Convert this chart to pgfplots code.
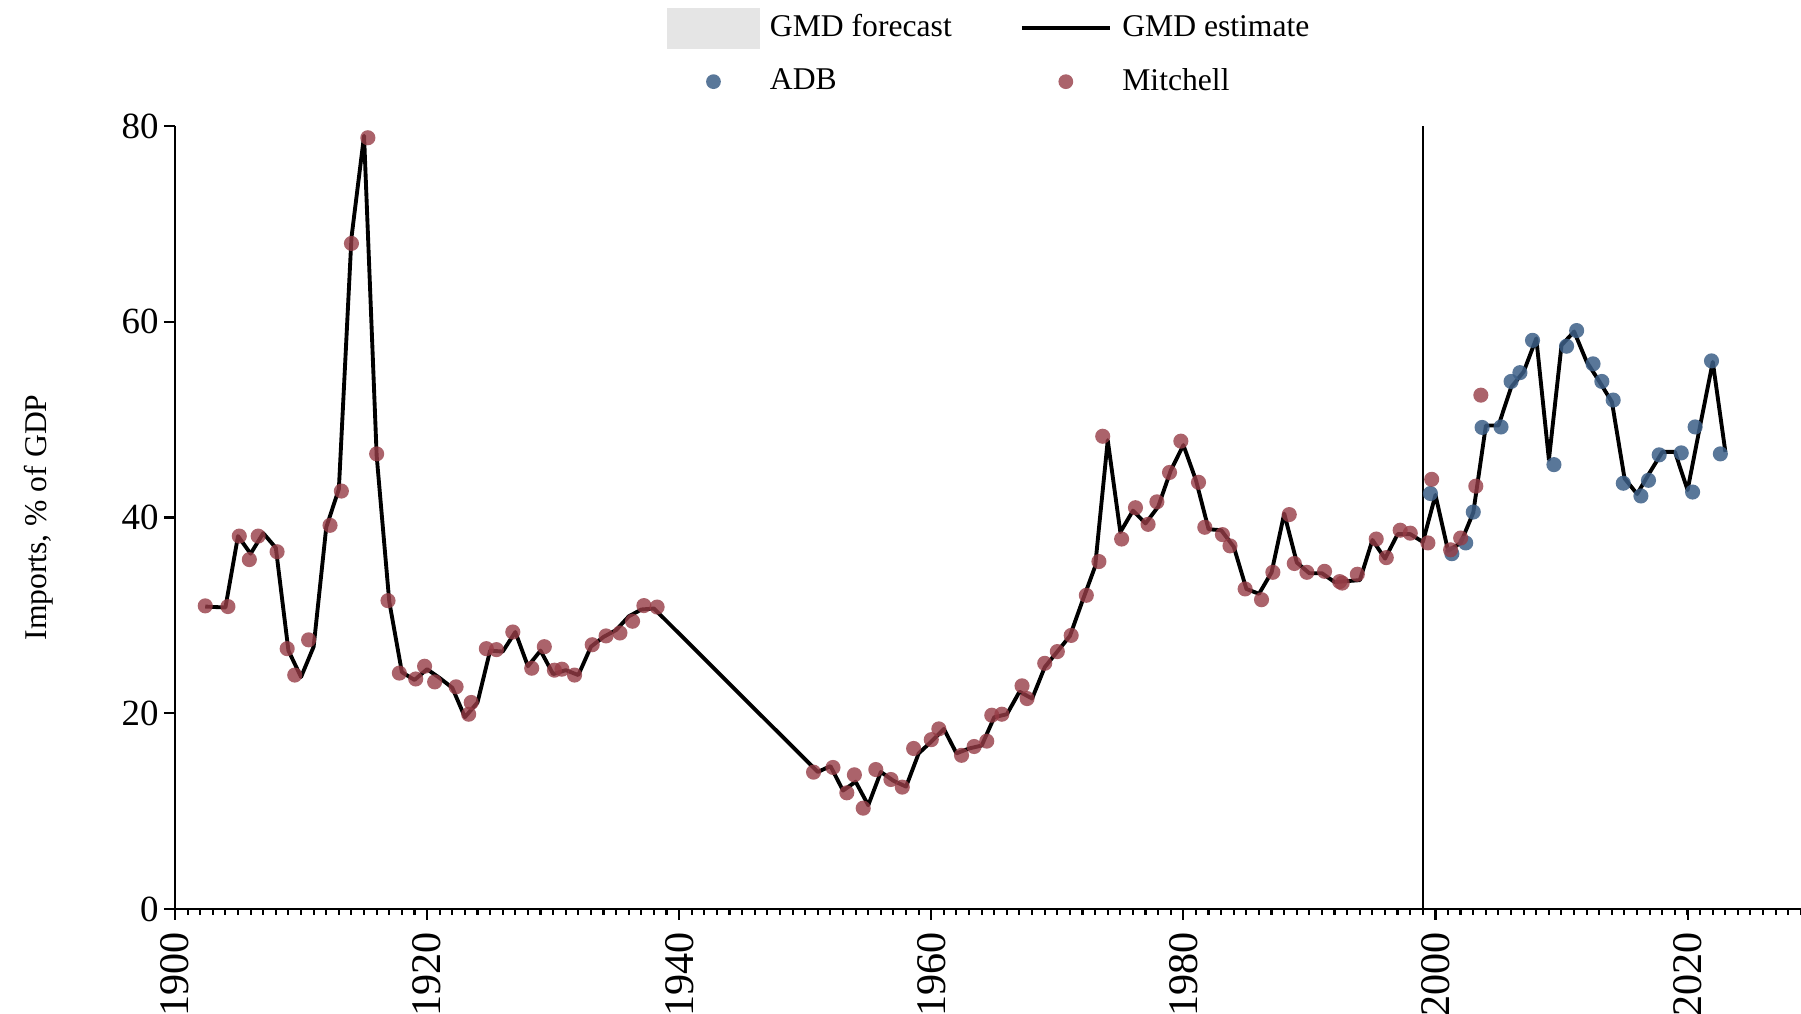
\documentclass[border=0pt]{standalone}
\usepackage{fontspec}
\setmainfont{Liberation Serif}
\usepackage{pgfplots}
\pgfplotsset{compat=1.18}
\usepackage{pgfplotstable}

\definecolor{adb}{RGB}{60,95,135}
\definecolor{mitch}{RGB}{150,60,70}
\definecolor{fcast}{RGB}{229,229,229}

% GMD estimate (line)
\pgfplotstableread{
year val
1902.4 30.9
1904 30.8
1905 38.1
1906 36.3
1907 38.4
1908 36.9
1909 26.4
1910 23.7
1911 26.8
1912 39.0
1913 42.9
1914 68.6
1915 79.0
1916 46.3
1917 31.4
1918 24.2
1919 23.4
1920 24.5
1921 23.6
1922 22.6
1923 19.6
1924 21.1
1925 26.4
1926 26.3
1927 28.3
1928 24.8
1929 26.4
1930 24.0
1931 24.4
1932 23.9
1933 26.8
1934 27.8
1935 28.5
1936 29.9
1937 30.6
1938 30.7
1951 14.0
1952 14.6
1953 12.1
1954 13.0
1955 10.6
1956 14.0
1957 13.1
1958 12.5
1959 15.9
1960 17.1
1961 18.4
1962 15.9
1963 16.4
1964 16.7
1965 19.6
1966 19.9
1967 22.2
1968 21.5
1969 24.7
1970 26.3
1971 27.9
1972 31.5
1973 35.0
1974 47.9
1975 38.5
1976 40.7
1977 39.4
1978 41.1
1979 44.8
1980 47.4
1981 43.8
1982 38.8
1983 38.7
1984 37.0
1985 32.7
1986 32.2
1987 34.4
1988 40.4
1989 35.4
1990 34.3
1991 34.3
1992 33.4
1993 33.5
1994 33.6
1995 37.7
1996 35.8
1997 38.3
1998 38.3
1999 37.5
2000 42.3
2001 36.6
2002 37.4
2003 40.5
2004 49.4
2005 49.4
2006 53.3
2007 54.9
2008 58.3
2009 45.9
2010 57.6
2011 59.0
2012 55.9
2013 53.9
2014 51.8
2015 44.0
2016 42.4
2017 44.6
2018 46.7
2019 46.7
2020 42.8
2021 49.4
2022 55.9
2023 46.7
}\gmd

% Mitchell
\pgfplotstableread{
year val
1902.4 30.97
1904.2 30.9
1905.1 38.1
1905.9 35.7
1906.6 38.1
1908.1 36.5
1908.9 26.6
1909.5 23.9
1910.6 27.5
1912.3 39.2
1913.2 42.7
1914.0 68.0
1915.3 78.8
1916.0 46.5
1916.9 31.5
1917.8 24.1
1919.1 23.5
1919.8 24.8
1920.6 23.2
1922.3 22.7
1923.3 19.9
1923.5 21.1
1924.7 26.6
1925.5 26.5
1926.8 28.3
1928.3 24.6
1929.3 26.8
1930.1 24.4
1930.7 24.5
1931.7 23.9
1933.1 27.0
1934.2 27.9
1935.3 28.2
1936.3 29.4
1937.2 31.0
1938.25 30.85
1950.66 13.98
1952.2 14.46
1953.3 11.87
1953.9 13.71
1954.6 10.3
1955.6 14.25
1956.8 13.23
1957.7 12.45
1958.6 16.4
1960.0 17.3
1960.6 18.4
1962.4 15.7
1963.4 16.6
1964.4 17.15
1964.8 19.8
1965.6 19.9
1967.2 22.8
1967.6 21.5
1969.0 25.1
1970.0 26.3
1971.1 27.95
1972.3 32.05
1973.3 35.5
1973.6 48.3
1975.1 37.8
1976.2 41.0
1977.2 39.3
1977.9 41.6
1978.9 44.6
1979.8 47.8
1981.2 43.6
1981.7 39.0
1983.1 38.25
1983.7 37.1
1984.9 32.7
1986.2 31.6
1987.1 34.4
1988.4 40.3
1988.8 35.3
1989.8 34.4
1991.2 34.5
1992.4 33.45
1992.6 33.3
1993.8 34.2
1995.3 37.8
1996.1 35.9
1997.2 38.7
1998.0 38.4
1999.4 37.4
1999.7 43.9
2001.2 36.7
2002.0 37.9
2003.2 43.2
2003.6 52.5
}\mitchell

% ADB
\pgfplotstableread{
year val
1999.6 42.45
2001.3 36.3
2002.4 37.4
2003.0 40.56
2003.7 49.2
2005.2 49.25
2006.0 53.9
2006.7 54.8
2007.7 58.1
2009.4 45.4
2010.4 57.5
2011.2 59.1
2012.5 55.7
2013.2 53.9
2014.1 52.0
2014.9 43.5
2016.3 42.2
2016.9 43.8
2017.75 46.4
2019.5 46.6
2020.4 42.6
2020.6 49.25
2021.9 56.0
2022.6 46.5
}\adbdata

\begin{document}
\begin{tikzpicture}
\begin{axis}[
  scale only axis,
  width=16.26cm, height=7.83cm,
  xmin=1900, xmax=2029, ymin=0, ymax=80,
  axis lines*=left,
  axis line style={line width=0.6pt, -},
  xtick={1900,1920,...,2020},
  minor xtick={1900,...,2029},
  ytick={0,20,...,80},
  tick align=outside,
  major tick length=0.11cm,
  minor tick length=0.06cm,
  tick style={black, line width=0.6pt},
  xticklabel style={rotate=90, anchor=east, font=\fontsize{12}{12}\selectfont},
  yticklabel style={font=\fontsize{10.5}{10.5}\selectfont, xshift=2pt},
  /pgf/number format/1000 sep={},
  /pgf/number format/assume math mode=true,
  ylabel={Imports, \% of GDP},
  every axis y label/.style={at={(axis description cs:-0.084,0.5)}, rotate=90, anchor=center, font=\fontsize{9}{9}\selectfont},
  legend columns=2,
  legend cell align=left,
  legend style={draw=none, fill=none, inner sep=0pt,
    at={(axis description cs:0.302,1)}, anchor=south west, yshift=0.23cm,
    font=\fontsize{9}{9}\selectfont,
    /tikz/every even column/.append style={column sep=0.61cm},
    row sep=0.12cm},
  clip=false,
]
\addlegendimage{legend image code/.code={\path[draw=none] (0cm,-0.2cm) rectangle (0.955cm,0.2cm); \fill[fcast] (0cm,-0.2cm) rectangle (0.92cm,0.2cm);}}
\addlegendentry{GMD forecast}
\addlegendimage{legend image code/.code={\path[draw=none] (0cm,-0.2cm) rectangle (0.955cm,0.2cm); \draw[black, line width=1.1pt] (0.02cm,0cm) -- (0.9cm,0cm);}}
\addlegendentry{GMD estimate}
\addlegendimage{legend image code/.code={\path[draw=none] (0cm,-0.15cm) rectangle (0.955cm,0.15cm); \fill[adb, fill opacity=0.85, draw=none] (0.46cm,0cm) circle (2.1pt);}}
\addlegendentry{ADB}
\addlegendimage{legend image code/.code={\path[draw=none] (0cm,-0.15cm) rectangle (0.955cm,0.15cm); \fill[mitch, fill opacity=0.8, draw=none] (0.46cm,0cm) circle (2.1pt);}}
\addlegendentry{Mitchell}

\addplot[forget plot, black, line width=0.6pt] coordinates {(1999,0) (1999,80)};
\addplot[forget plot, black, line width=1.1pt, line join=round] table[x=year, y=val] {\gmd};
\addplot[forget plot, only marks, mark=*, mark size=2.15pt, color=adb, mark options={fill=adb, fill opacity=0.85, draw opacity=0, line width=0pt}] table[x=year, y=val] {\adbdata};
\addplot[forget plot, only marks, mark=*, mark size=2.15pt, color=mitch, mark options={fill=mitch, fill opacity=0.8, draw opacity=0, line width=0pt}] table[x=year, y=val] {\mitchell};
\end{axis}
\pgfresetboundingbox
\path[use as bounding box] (-1.75cm,-1.05cm) rectangle (16.26cm,9.09cm);
\end{tikzpicture}
\end{document}
